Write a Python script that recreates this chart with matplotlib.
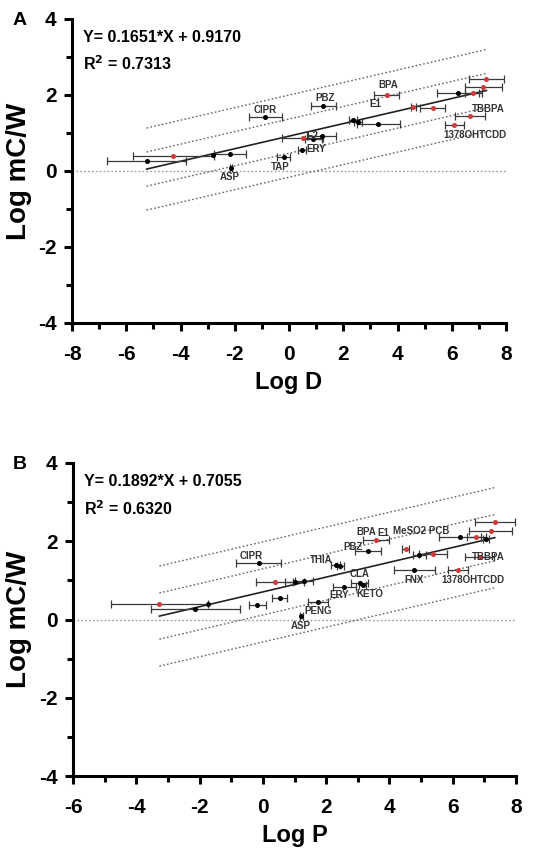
import matplotlib
matplotlib.use("Agg")
import matplotlib.pyplot as plt
import numpy as np
from matplotlib.ticker import MultipleLocator

plt.rcParams['font.family'] = ['Liberation Sans', 'DejaVu Sans']
plt.rcParams['font.weight'] = 'bold'
plt.rcParams['axes.unicode_minus'] = False

# ---- Panel A: Log mC/W vs Log D ----
a_x = [-5.25, -4.26, -2.79, -2.17, -2.14, -0.20, 0.47, 0.50, 0.90, 1.20,
       -0.88, 1.27, 2.35, 2.55, 3.29, 3.60, 4.58, 5.30, 6.24, 6.80, 7.28, 7.16, 6.67, 6.10]
a_y = [0.26, 0.40, 0.43, 0.44, 0.08, 0.37, 0.55, 0.87, 0.83, 0.93,
       1.43, 1.71, 1.35, 1.30, 1.25, 1.99, 1.69, 1.65, 2.04, 2.04, 2.43, 2.21, 1.46, 1.22]
a_xerr = [1.47, 1.48, 0.0, 0.58, 0.05, 0.25, 0.15, 0.75, 0.30, 0.55,
          0.61, 0.46, 0.15, 0.15, 0.80, 0.46, 0.10, 0.46, 0.77, 0.30, 0.65, 0.68, 0.55, 0.34]
a_red = [0, 1, 0, 0, 0, 0, 0, 1, 0, 0,
         0, 0, 0, 0, 0, 1, 1, 1, 0, 1, 1, 1, 1, 1]
a_slope, a_icpt, a_r2 = 0.1651, 0.9170, 0.7313
a_band_inner, a_band_outer = 0.45, 1.08
a_labels = ["CIPR", "PBZ", "BPA", "E1", "TBBPA", "1378OHTCDD", "ERY", "E2", "TAP", "ASP"]
a_label_pos = [(-0.88, 1.60), (1.33, 1.92), (3.66, 2.26), (3.17, 1.76), (7.35, 1.62),
               (6.85, 0.95), (1.00, 0.58), (0.85, 0.92), (-0.33, 0.11), (-2.17, -0.15)]

# ---- Panel B: Log mC/W vs Log P ----
b_x = [-3.27, -1.74, -2.13, -0.18, 0.53, 0.37, 1.00, 1.30, -0.13, 2.30, 2.45,
       1.74, 1.21, 2.58, 3.06, 3.15, 3.32, 3.58, 4.51, 4.95, 5.37, 4.79,
       6.22, 6.74, 7.06, 7.33, 7.20, 6.85, 6.16]
b_y = [0.40, 0.40, 0.27, 0.38, 0.55, 0.96, 0.97, 0.98, 1.44, 1.40, 1.36,
       0.45, 0.09, 0.83, 0.93, 0.88, 1.74, 2.02, 1.80, 1.65, 1.67, 1.26,
       2.10, 2.10, 2.06, 2.49, 2.27, 1.59, 1.26]
b_xerr = [1.53, 0.0, 1.40, 0.27, 0.24, 0.58, 0.30, 0.30, 0.71, 0.15, 0.10,
          0.32, 0.05, 0.37, 0.26, 0.10, 0.42, 0.42, 0.10, 0.20, 0.45, 0.66,
          0.66, 0.30, 0.10, 0.63, 0.68, 0.47, 0.32]
b_red = [1, 0, 0, 0, 0, 1, 0, 0, 0, 0, 0,
         0, 0, 0, 0, 0, 0, 1, 1, 0, 1, 0,
         0, 1, 0, 1, 1, 1, 1]
b_slope, b_icpt, b_r2 = 0.1892, 0.7055, 0.6320
b_band_inner, b_band_outer = 0.59, 1.28
b_labels = ["CIPR", "THIA", "PBZ", "BPA", "E1", "MeSO2 PCB", "CLA", "ERY", "KETO",
            "PENG", "ASP", "FNX", "TBBPA", "1378OHTCDD"]
b_label_pos = [(-0.37, 1.63), (1.84, 1.53), (2.85, 1.86), (3.27, 2.23), (3.82, 2.21),
               (5.00, 2.26), (3.06, 1.16), (2.42, 0.63), (3.37, 0.64), (1.74, 0.23),
               (1.21, -0.17), (4.79, 1.01), (7.11, 1.59), (6.64, 1.00)]

RED = '#d23a3a'
BAR = '#3a3a3a'
DOT = (0, (1.2, 1.6))


def draw_panel(ax, xs, ys, xerr, red, slope, icpt, r2, inner, outer,
               labels, label_pos, xlim, xlabel, letter):
    ax.axhline(0, color='#9a9a9a', lw=1.0, ls=DOT, zorder=1)
    xs = np.asarray(xs)
    ys = np.asarray(ys)
    for xi, yi, ei, ri in zip(xs, ys, xerr, red):
        ax.errorbar(xi, yi, xerr=ei if ei > 0 else None, fmt='o', ms=2.6,
                    color=RED if ri else 'black', ecolor=BAR, elinewidth=0.9,
                    capsize=3, capthick=0.9, zorder=3)
    gx = np.array([xs.min(), xs.max()])
    gy = slope * gx + icpt
    ax.plot(gx, gy, color='#222222', lw=1.2, zorder=2)
    for off in (inner, -inner, outer, -outer):
        ax.plot(gx, gy + off, color='#666666', lw=1.0, ls=DOT, zorder=1)
    for txt, (lx, ly) in zip(labels, label_pos):
        ax.text(lx, ly, txt, fontsize=7, fontweight='bold', color='#333333',
                ha='center', va='center', zorder=4)
    ax.text(0.025, 0.965, f"Y= {slope:.4f}*X + {icpt:.4f}", transform=ax.transAxes,
            fontsize=11.5, fontweight='bold', va='top', ha='left')
    ax.text(0.025, 0.885, f"R$^{{2}}$ = {r2:.4f}", transform=ax.transAxes,
            fontsize=11.5, fontweight='bold', va='top', ha='left')

    ax.set_xlim(*xlim)
    ax.set_ylim(-4, 4)
    ax.xaxis.set_major_locator(MultipleLocator(2))
    ax.xaxis.set_minor_locator(MultipleLocator(1))
    ax.yaxis.set_major_locator(MultipleLocator(2))
    ax.yaxis.set_minor_locator(MultipleLocator(1))
    for s in ('top', 'right'):
        ax.spines[s].set_visible(False)
    for s in ('left', 'bottom'):
        ax.spines[s].set_linewidth(2.2)
    ax.tick_params(which='major', length=6, width=2.2, labelsize=15)
    ax.tick_params(axis='x', which='major', pad=10)
    ax.tick_params(axis='y', which='major', pad=5)
    ax.tick_params(which='minor', length=4, width=2.2)
    for lab in ax.get_xticklabels() + ax.get_yticklabels():
        lab.set_fontweight('bold')
    ax.set_xlabel(xlabel, fontsize=17, fontweight='bold', labelpad=5)
    ax.set_ylabel("Log mC/W", fontsize=20, fontweight='bold')
    ax.yaxis.set_label_coords(-0.092, 0.5)
    ax.text(-0.105, 0.995, letter, transform=ax.transAxes, fontsize=14,
            fontweight='bold', ha='right', va='center')


fig = plt.figure(figsize=(5.47, 8.5), dpi=100)
axA = fig.add_axes([72 / 547, 1 - 323 / 850, 434 / 547, 304 / 850])
axB = fig.add_axes([73 / 547, 1 - 776 / 850, 443 / 547, 313 / 850])

draw_panel(axA, a_x, a_y, a_xerr, a_red, a_slope, a_icpt, a_r2, a_band_inner,
           a_band_outer, a_labels, a_label_pos, (-8, 8), "Log D", "A")
draw_panel(axB, b_x, b_y, b_xerr, b_red, b_slope, b_icpt, b_r2, b_band_inner,
           b_band_outer, b_labels, b_label_pos, (-6, 8), "Log P", "B")

fig.savefig("out.png", dpi=100)
